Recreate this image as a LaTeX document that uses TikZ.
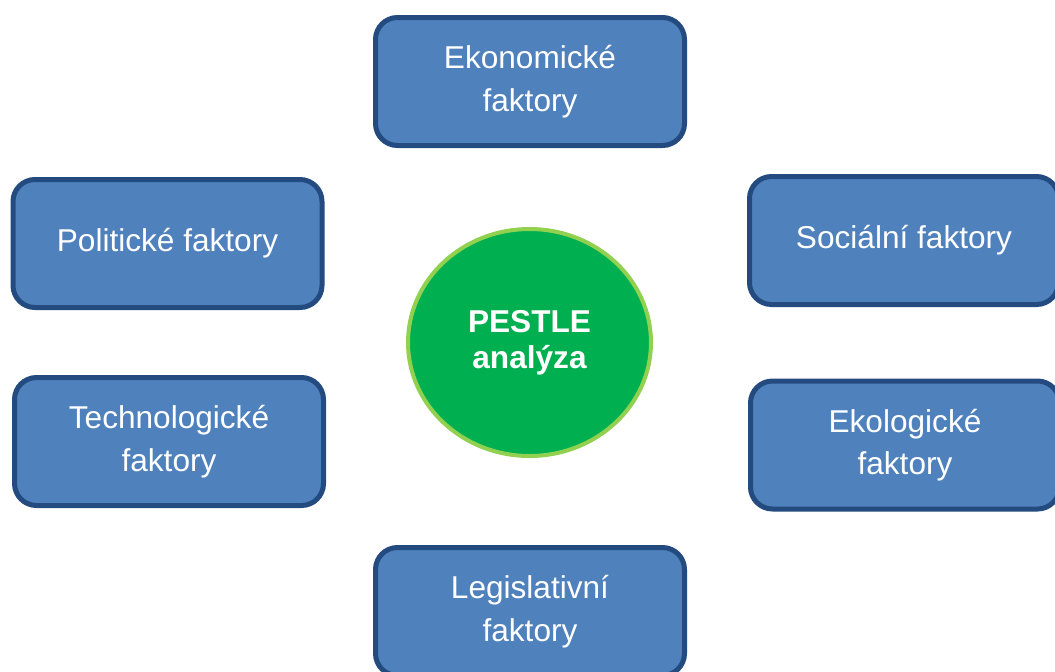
\documentclass[tikz,border=0pt]{standalone}
\usepackage{fontspec}
\setmainfont{Liberation Sans}
\usetikzlibrary{shapes.geometric}

\definecolor{boxfill}{HTML}{4F81BD}
\definecolor{boxline}{HTML}{244B7F}
\definecolor{hubfill}{HTML}{00B050}
\definecolor{hubline}{HTML}{92D050}

\tikzset{
    factor/.style={draw=boxline, fill=boxfill, line width=2.5pt, rounded corners=11pt,
        minimum width=154.5pt, minimum height=64pt, align=center, text=white,
        font=\fontsize{15.8}{21.3}\selectfont},
    hub/.style={ellipse, draw=hubline, fill=hubfill, line width=2pt, inner sep=0pt,
        minimum width=121.5pt, minimum height=113.5pt, align=center, text=white,
        font=\fontsize{15.8}{18}\selectfont\bfseries}
}

\begin{document}
\begin{tikzpicture}[x=0.5pt, y=-0.5pt]
\clip (0,0) rectangle (1055,671);

% the analysis in the middle
\node[hub] (pestle) at (529.5,342.5) {PESTLE\\analýza};

% the six groups of factors around it
\node[factor] (eko) at (530,81.5)   {Ekonomické\\faktory};
\node[factor] (pol) at (167.5,243.5) {Politické faktory};
\node[factor] (soc) at (904,240.5)  {Sociální faktory};
\node[factor] (tech) at (169,441.5) {Technologické\\faktory};
\node[factor] (ekol) at (905,445)   {Ekologické\\faktory};
\node[factor] (leg) at (530,611.5)  {Legislativní\\faktory};

\end{tikzpicture}
\end{document}
